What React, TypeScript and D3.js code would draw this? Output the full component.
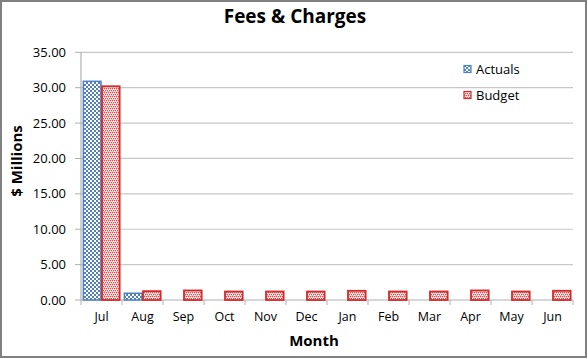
import React from "react";
import * as d3 from "d3";

const months = ["Jul", "Aug", "Sep", "Oct", "Nov", "Dec", "Jan", "Feb", "Mar", "Apr", "May", "Jun"];
const actuals: (number | null)[] = [30.9, 0.95, null, null, null, null, null, null, null, null, null, null];
const budget: number[] = [30.2, 1.25, 1.35, 1.2, 1.2, 1.2, 1.3, 1.2, 1.2, 1.35, 1.2, 1.3];
const yTicks = [0, 5, 10, 15, 20, 25, 30, 35];
const seriesNames = ["Actuals", "Budget"];

const W = 588;
const H = 359;
const margin = { left: 81, right: 15, top: 52.3, bottom: 59 };
const FONT = "'Open Sans', Lato, sans-serif";

export default function App() {
  const x = d3
    .scaleBand<string>()
    .domain(months)
    .range([margin.left, W - margin.right])
    .paddingInner(0)
    .paddingOuter(0);
  const y = d3.scaleLinear().domain([0, 35]).range([H - margin.bottom, margin.top]);
  const inner = d3.scaleBand<string>().domain(seriesNames).range([0, x.bandwidth()]).paddingOuter(0.1).paddingInner(0);
  const bw = inner.bandwidth();
  const y0 = y(0);
  const blue = "#4F81BD";
  const red = "#D8282A";

  return (
    <svg width={W} height={H} style={{ position: "absolute", left: 0, top: 0, display: "block" }}>
      <defs>
        <pattern id="checker" width="4" height="4" patternUnits="userSpaceOnUse">
          <rect width="4" height="4" fill="#ffffff" />
          <rect x="0" y="0" width="2" height="2" fill={blue} />
          <rect x="2" y="2" width="2" height="2" fill={blue} />
        </pattern>
        <pattern id="confetti" width="4" height="4" patternUnits="userSpaceOnUse">
          <rect width="4" height="4" fill="#F3B9B8" />
          <rect x="0" y="0" width="1" height="1" fill="#E0504E" />
          <rect x="2" y="0" width="1" height="1" fill="#E0504E" />
          <rect x="1" y="1" width="1" height="1" fill="#ffffff" />
          <rect x="3" y="1" width="1" height="1" fill="#ffffff" />
          <rect x="0" y="2" width="1" height="1" fill="#ffffff" />
          <rect x="1" y="2" width="1" height="1" fill="#E0504E" />
          <rect x="3" y="2" width="1" height="1" fill="#E0504E" />
          <rect x="2" y="3" width="1" height="1" fill="#ffffff" />
        </pattern>
      </defs>
      <rect x={0} y={0} width={W} height={H} fill="#ffffff" />
      <rect x={1} y={1} width={W - 3} height={H - 3} fill="none" stroke="#808080" strokeWidth={2} />

      {/* title */}
      <text x={295} y={23} textAnchor="middle" fontFamily={FONT} fontWeight="bold" fontSize={19} fill="#000">
        Fees &amp; Charges
      </text>

      {/* gridlines */}
      {yTicks.map((t) => (
        <g key={t}>
          {t > 0 && (
            <line x1={margin.left} x2={W - margin.right} y1={y(t)} y2={y(t)} stroke="#c8c8c8" strokeWidth={1.2} />
          )}
          <line x1={margin.left - 6} x2={margin.left} y1={y(t)} y2={y(t)} stroke="#b0b0b0" strokeWidth={1} />
          <text x={66} y={y(t)} dy="0.35em" textAnchor="end" fontFamily={FONT} fontSize={13} fill="#000">
            {t.toFixed(2)}
          </text>
        </g>
      ))}

      {/* axes */}
      <line x1={margin.left} x2={margin.left} y1={margin.top} y2={y0} stroke="#b0b0b0" strokeWidth={1.2} />
      <line x1={margin.left} x2={W - margin.right} y1={y0} y2={y0} stroke="#b0b0b0" strokeWidth={1.2} />
      {months.map((m) => (
        <line key={"t" + m} x1={x(m) as number} x2={x(m) as number} y1={y0} y2={y0 + 5} stroke="#b0b0b0" strokeWidth={1} />
      ))}
      <line x1={W - margin.right} x2={W - margin.right} y1={y0} y2={y0 + 5} stroke="#b0b0b0" strokeWidth={1} />

      {/* bars */}
      {months.map((m, i) => {
        const a = actuals[i];
        const b = budget[i];
        const bx = x(m) as number;
        return (
          <g key={m}>
            {a != null && (
              <rect
                x={bx + (inner("Actuals") as number) + 0.5}
                y={y(a)}
                width={bw - 1}
                height={y0 - y(a)}
                fill="url(#checker)"
                stroke={blue}
                strokeWidth={1.5}
              />
            )}
            <rect
              x={bx + (inner("Budget") as number) + 0.5}
              y={y(b)}
              width={bw - 1}
              height={y0 - y(b)}
              fill="url(#confetti)"
              stroke={red}
              strokeWidth={1.8}
            />
            <text
              x={bx + x.bandwidth() / 2}
              y={321}
              textAnchor="middle"
              fontFamily={FONT}
              fontSize={12.5}
              fill="#000"
            >
              {m}
            </text>
          </g>
        );
      })}

      {/* axis titles */}
      <text x={314} y={346} textAnchor="middle" fontFamily={FONT} fontWeight="bold" fontSize={15} fill="#000">
        Month
      </text>
      <text
        transform={`translate(22,161) rotate(-90)`}
        textAnchor="middle"
        fontFamily={FONT}
        fontWeight="bold"
        fontSize={15}
        fill="#000"
      >
        $ Millions
      </text>

      {/* legend */}
      {seriesNames.map((s, i) => (
        <g key={s} transform={`translate(464,${69 + i * 26})`}>
          <rect
            x={0}
            y={-3.5}
            width={7}
            height={7}
            fill={i === 0 ? "url(#checker)" : "url(#confetti)"}
            stroke={i === 0 ? blue : red}
            strokeWidth={1.2}
          />
          <text x={12} y={0} dy="0.35em" fontFamily={FONT} fontSize={13} fill="#000">
            {s}
          </text>
        </g>
      ))}
    </svg>
  );
}
